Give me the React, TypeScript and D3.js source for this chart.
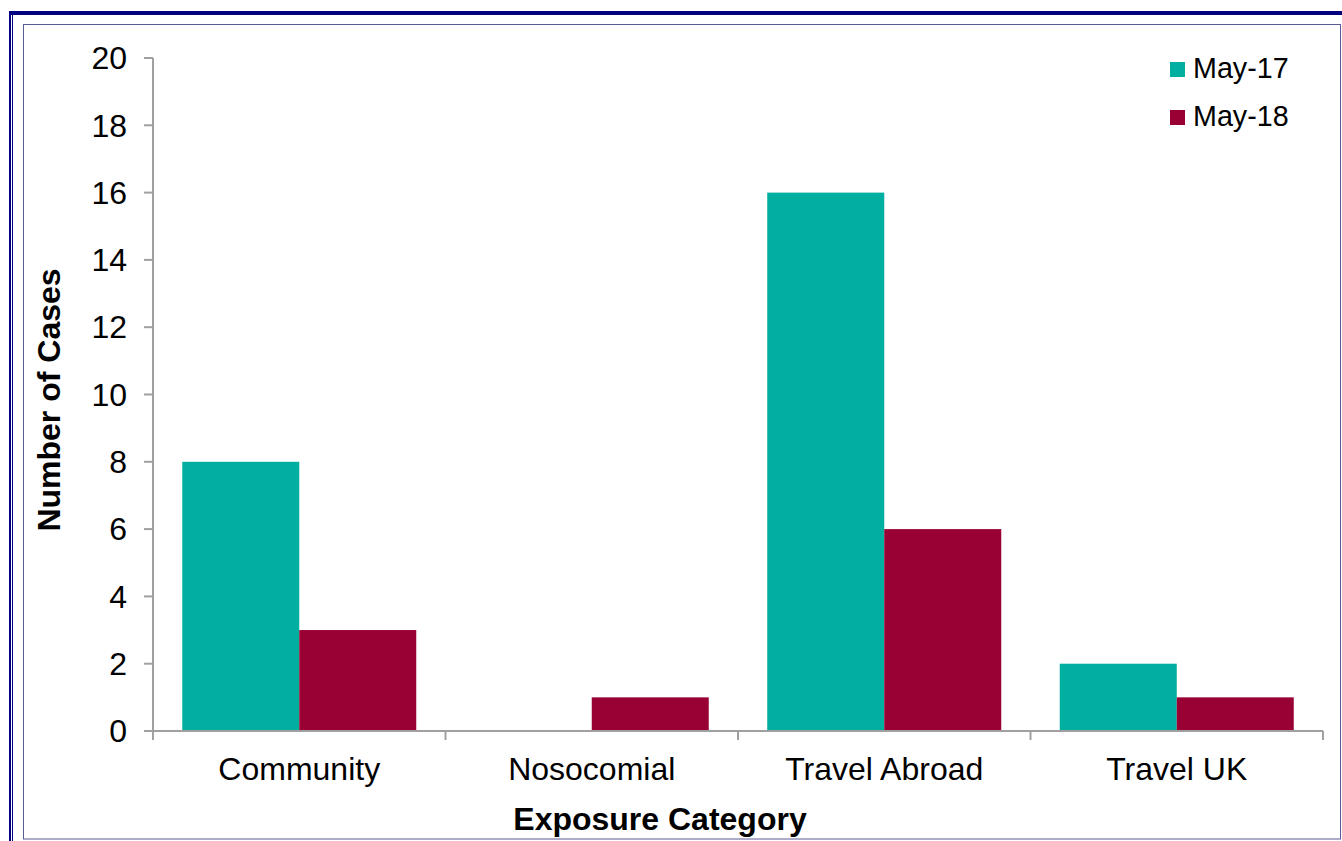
import React from "react";
import * as d3 from "d3";

const categories = ["Community", "Nosocomial", "Travel Abroad", "Travel UK"];
const seriesNames = ["May-17", "May-18"];
const may17 = [8, 0, 16, 2];
const may18 = [3, 1, 6, 1];
const yTicks = [0, 2, 4, 6, 8, 10, 12, 14, 16, 18, 20];
const colors = ["#00AF9F", "#990033"];

const W = 1342;
const H = 841;
const FONT = "'Liberation Sans', Arial, sans-serif";

export default function App() {
  const left = 153;
  const right = 1323;
  const top = 58;
  const bottom = 731;

  const y = d3.scaleLinear().domain([0, 20]).range([bottom, top]);
  const x = d3
    .scaleBand<string>()
    .domain(categories)
    .range([left, right])
    .paddingInner(0.2)
    .paddingOuter(0.1);
  const xs = d3.scaleBand<string>().domain(seriesNames).range([0, x.bandwidth()]).padding(0);
  const step = x.step();
  const series = [may17, may18];
  const axisColor = "#a0a0a0";

  return (
    <div style={{ position: "absolute", left: 0, top: 0, width: W, height: H, background: "#fff" }}>
      <svg width={W} height={H} style={{ display: "block" }}>
        <rect x={0} y={0} width={W} height={H} fill="#fff" />
        {/* outer frame */}
        <rect x={9} y={11} width={W - 9} height={4} fill="#000080" />
        <rect x={9} y={11} width={2} height={H - 11} fill="#000080" />
        <rect x={12} y={15} width={1} height={H - 15} fill="#000080" />
        {/* inner frame */}
        <rect x={23.5} y={24.5} width={1317} height={814.5} fill="none" stroke="#5a5a96" strokeWidth={1} />

        {/* bars */}
        {categories.map((c, i) =>
          seriesNames.map((s, j) => {
            const v = series[j][i];
            if (v <= 0) return null;
            return (
              <rect
                key={c + s}
                x={(x(c) as number) + (xs(s) as number)}
                y={y(v)}
                width={xs.bandwidth()}
                height={y(0) - y(v)}
                fill={colors[j]}
              />
            );
          })
        )}

        {/* y axis */}
        <line x1={left} x2={left} y1={top} y2={bottom} stroke={axisColor} strokeWidth={2} />
        {yTicks.map((t) => (
          <g key={t}>
            <line x1={left - 9} x2={left} y1={y(t)} y2={y(t)} stroke={axisColor} strokeWidth={2} />
            <text
              x={127}
              y={y(t)}
              dy="0.35em"
              textAnchor="end"
              fontFamily={FONT}
              fontSize={32}
              fill="#000"
            >
              {t}
            </text>
          </g>
        ))}

        {/* x axis */}
        <line x1={left} x2={right} y1={bottom} y2={bottom} stroke={axisColor} strokeWidth={2} />
        {d3.range(categories.length + 1).map((k) => (
          <line
            key={k}
            x1={left + k * step}
            x2={left + k * step}
            y1={bottom}
            y2={bottom + 9}
            stroke={axisColor}
            strokeWidth={2}
          />
        ))}
        {categories.map((c) => (
          <text
            key={c}
            x={(x(c) as number) + x.bandwidth() / 2}
            y={780}
            textAnchor="middle"
            fontFamily={FONT}
            fontSize={32}
            fill="#000"
          >
            {c}
          </text>
        ))}

        {/* axis titles */}
        <text
          x={660}
          y={830}
          textAnchor="middle"
          fontFamily={FONT}
          fontSize={32}
          fontWeight="bold"
          fill="#000"
        >
          Exposure Category
        </text>
        <text
          transform={`translate(60, 400) rotate(-90)`}
          textAnchor="middle"
          fontFamily={FONT}
          fontSize={32}
          fontWeight="bold"
          fill="#000"
        >
          Number of Cases
        </text>

        {/* legend */}
        {seriesNames.map((s, j) => (
          <g key={s}>
            <rect x={1170} y={62 + j * 48} width={15} height={15} fill={colors[j]} />
            <text x={1193} y={77.5 + j * 48} fontFamily={FONT} fontSize={28.7} fill="#000">
              {s}
            </text>
          </g>
        ))}
      </svg>
    </div>
  );
}
